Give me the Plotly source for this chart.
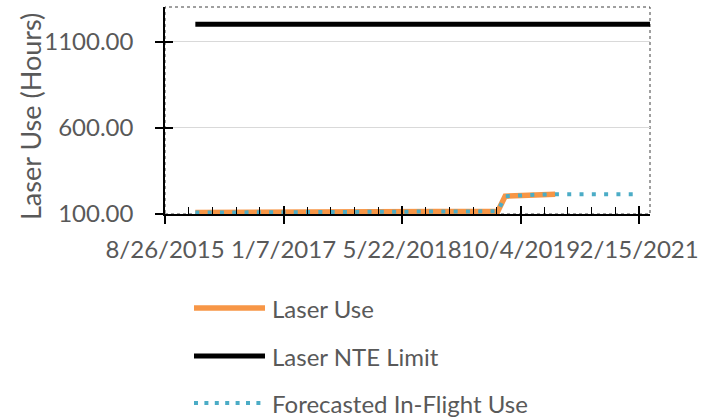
import plotly.graph_objects as go

# ---- data ----
use_dates = ["2016-01-01", "2016-04-01", "2016-07-01", "2016-10-01", "2017-01-01", "2017-04-01",
             "2017-07-01", "2017-10-01", "2018-01-01", "2018-04-01", "2018-07-01", "2018-10-01",
             "2019-01-01", "2019-04-01", "2019-06-30", "2019-07-31", "2019-09-01", "2019-10-15",
             "2019-12-01", "2020-01-15", "2020-02-27"]
use_values = [108, 109, 110, 110, 111, 111, 112, 112, 113, 113, 114, 114,
              115, 115, 116, 203, 206, 208, 211, 213, 215]

forecast_dates = use_dates + ["2021-02-15"]
forecast_values = use_values + [215]

nte_dates = ["2016-01-01", "2021-04-02"]
nte_values = [1200, 1200]

x_tick_dates = ["2015-08-26", "2017-01-07", "2018-05-22", "2019-10-04", "2021-02-15"]
x_tick_labels = ["8/26/2015", "1/7/2017", "5/22/2018", "10/4/2019", "2/15/2021"]
x_range = ["2015-08-26", "2021-04-02"]
y_range = [100, 1300]
y_ticks = [100, 600, 1100]
y_title = "Laser Use (Hours)"

series_names = ["Laser Use", "Laser NTE Limit", "Forecasted In-Flight Use"]

FONT = "Lato"
GREY = "#595959"
ORANGE, BLACK, TEAL = "#F79646", "#000000", "#4BACC6"

# plot-area geometry in pixels (for placing the hand-drawn legend)
L, R, T, B = 165, 650, 7, 214


def px_x(px):
    return (px - L) / (R - L)


def px_y(py):
    return (B - py) / (B - T)


fig = go.Figure()
fig.add_trace(go.Scatter(x=use_dates, y=use_values, mode="lines", name=series_names[0],
                         line=dict(color=ORANGE, width=5.5), showlegend=False))
fig.add_trace(go.Scatter(x=nte_dates, y=nte_values, mode="lines", name=series_names[1],
                         line=dict(color=BLACK, width=5), showlegend=False))
fig.add_trace(go.Scatter(x=forecast_dates, y=forecast_values, mode="lines",
                         name=series_names[2], showlegend=False,
                         line=dict(color=TEAL, width=4, dash="4px,8.3px")))
# dummy trace for overlay axes (inner half of crossing ticks)
fig.add_trace(go.Scatter(x=[None], y=[None], xaxis="x2", yaxis="y2", showlegend=False,
                         hoverinfo="skip"))

# legend drawn by hand (line samples as shapes, labels as annotations)
legend_rows = [(308, ORANGE, 5.5, "solid", 265), (356, BLACK, 5, "solid", 265),
               (403, TEAL, 4, "4px,6.4px", 262)]
shapes = [dict(type="rect", xref="paper", yref="paper", x0=0, x1=1, y0=0, y1=1,
               line=dict(color="#404040", width=1, dash="dot"), layer="below")]
annotations = [dict(text=y_title, textangle=-90, xref="paper", yref="paper",
                    x=px_x(31), y=px_y(117), xanchor="center", yanchor="middle",
                    showarrow=False, font=dict(family=FONT, size=27, color=GREY))]
for name, (py, col, wd, dsh, xend) in zip(series_names, legend_rows):
    shapes.append(dict(type="line", xref="paper", yref="paper", x0=px_x(194), x1=px_x(xend),
                       y0=px_y(py), y1=px_y(py), line=dict(color=col, width=wd, dash=dsh)))
    annotations.append(dict(text=name, xref="paper", yref="paper", x=px_x(270), y=px_y(py),
                            xanchor="left", yanchor="middle", showarrow=False,
                            font=dict(family=FONT, size=24, color=GREY)))

fig.update_layout(
    width=712, height=419,
    margin=dict(l=L, r=712 - R, t=T, b=419 - B),
    paper_bgcolor="white", plot_bgcolor="white",
    font=dict(family=FONT, size=24, color=GREY),
    showlegend=False,
    xaxis=dict(type="date", range=x_range, tickmode="array", tickvals=x_tick_dates,
               ticktext=x_tick_labels, tickangle=0, ticks="outside", ticklen=8, tickwidth=1.5,
               tickcolor="black", showline=True, linecolor="black", linewidth=1.5,
               showgrid=False, zeroline=False, ticklabelstandoff=5,
               tickfont=dict(family=FONT, size=24, color=GREY)),
    yaxis=dict(range=y_range, tickmode="array", tickvals=y_ticks, tickformat=".2f",
               ticks="outside", ticklen=8, tickwidth=1.5, tickcolor="black",
               showline=True, linecolor="black", linewidth=1.5,
               showgrid=True, gridcolor="#D9D9D9", gridwidth=1, zeroline=False,
               ticklabelstandoff=17,
               tickfont=dict(family=FONT, size=24, color=GREY)),
    xaxis2=dict(type="date", matches="x", overlaying="x", anchor="y2", tickmode="array",
                tickvals=x_tick_dates, ticks="inside", ticklen=8, tickwidth=1.5, tickcolor="black",
                showticklabels=False, showgrid=False, zeroline=False, showline=False,
                minor=dict(ticks="inside", ticklen=7, tickwidth=1.2, tickcolor="black",
                           tick0="2015-08-26", dtick=100 * 86400000, showgrid=False)),
    yaxis2=dict(matches="y", overlaying="y", anchor="x2", tickmode="array", tickvals=y_ticks,
                ticks="inside", ticklen=8, tickwidth=1.5, tickcolor="black",
                showticklabels=False, showgrid=False, zeroline=False, showline=False),
    shapes=shapes,
    annotations=annotations,
)

fig.write_html("out.html", config={"displayModeBar": False},
               post_script="document.body.style.margin='0px';")
